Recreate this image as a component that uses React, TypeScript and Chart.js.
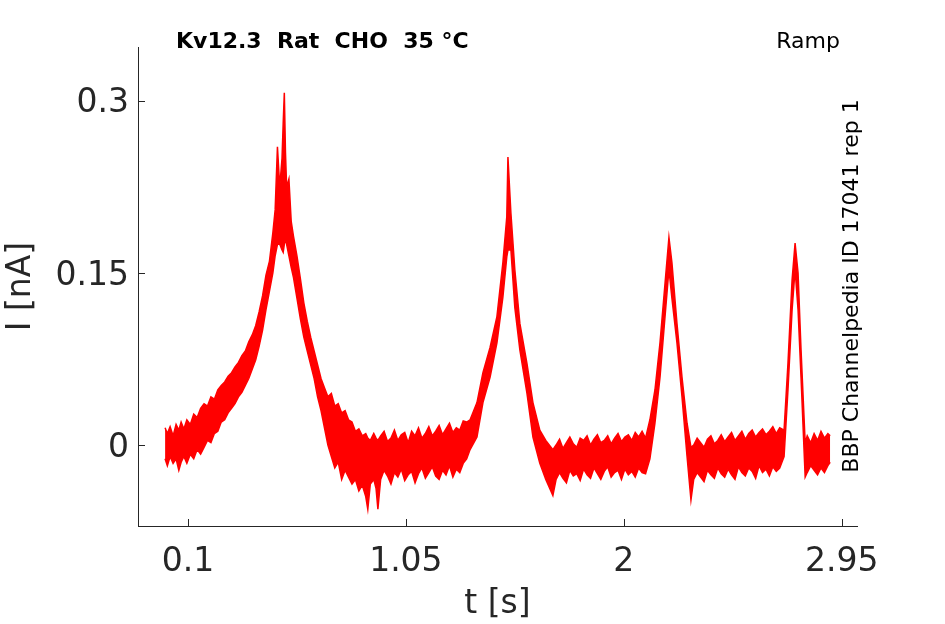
import { useEffect, useRef } from "react"
import { Chart, registerables } from "chart.js"

Chart.register(...registerables)

// time [s] with the upper and lower edge of the noisy current trace [nA]
const T = [
  0.0, 0.01, 0.022, 0.035, 0.048, 0.06, 0.07, 0.082, 0.095, 0.11,
  0.125, 0.14, 0.155, 0.17, 0.185, 0.2, 0.215, 0.23, 0.245, 0.26,
  0.275, 0.29, 0.305, 0.32, 0.335, 0.35, 0.365, 0.38, 0.395, 0.41,
  0.425, 0.44, 0.455, 0.47, 0.48, 0.49, 0.5, 0.51, 0.515, 0.52,
  0.525, 0.53, 0.54, 0.55, 0.56, 0.575, 0.59, 0.605, 0.62, 0.635,
  0.65, 0.665, 0.68, 0.695, 0.71, 0.725, 0.74, 0.755, 0.77, 0.785,
  0.8, 0.815, 0.83, 0.845, 0.86, 0.875, 0.884, 0.895, 0.91, 0.92,
  0.928, 0.94, 0.955, 0.97, 0.985, 1.0, 1.015, 1.03, 1.045, 1.06,
  1.075, 1.09, 1.105, 1.12, 1.135, 1.15, 1.165, 1.18, 1.195, 1.21,
  1.225, 1.24, 1.255, 1.27, 1.285, 1.3, 1.315, 1.33, 1.36, 1.386,
  1.417, 1.447, 1.473, 1.49, 1.495, 1.508, 1.525, 1.547, 1.578, 1.604,
  1.634, 1.66, 1.691, 1.705, 1.72, 1.735, 1.75, 1.765, 1.78, 1.795,
  1.81, 1.825, 1.84, 1.855, 1.87, 1.885, 1.9, 1.915, 1.93, 1.945,
  1.96, 1.975, 1.99, 2.005, 2.02, 2.035, 2.05, 2.065, 2.08, 2.095,
  2.114, 2.136, 2.158, 2.18, 2.197, 2.21, 2.232, 2.254, 2.276, 2.293,
  2.305, 2.32, 2.335, 2.35, 2.365, 2.38, 2.395, 2.41, 2.425, 2.44,
  2.455, 2.47, 2.485, 2.5, 2.515, 2.53, 2.545, 2.56, 2.575, 2.59,
  2.605, 2.62, 2.635, 2.65, 2.665, 2.68, 2.699, 2.716, 2.734, 2.747,
  2.76, 2.773, 2.791, 2.8, 2.815, 2.83, 2.845, 2.86, 2.875, 2.89,
  2.9,
]

const HI = [
  0.015, 0.01, 0.016, 0.008, 0.018, 0.013, 0.02, 0.014, 0.022, 0.018,
  0.027, 0.024, 0.032, 0.036, 0.034, 0.042, 0.04, 0.048, 0.052, 0.055,
  0.06, 0.063, 0.068, 0.072, 0.078, 0.082, 0.09, 0.096, 0.104, 0.116,
  0.13, 0.148, 0.16, 0.185, 0.205, 0.26, 0.225, 0.25, 0.28, 0.307,
  0.255, 0.225, 0.232, 0.195, 0.182, 0.165, 0.145, 0.124, 0.108, 0.094,
  0.082, 0.07, 0.058, 0.05, 0.042, 0.045, 0.034, 0.036, 0.028, 0.03,
  0.022, 0.02, 0.012, 0.014, 0.008, 0.01, 0.006, 0.004, 0.01, 0.006,
  0.004, 0.008, 0.012, 0.003, 0.006, 0.013, 0.004, 0.009, 0.011, 0.002,
  0.012, 0.008, 0.015, 0.006, 0.01, 0.016, 0.008, 0.012, 0.017, 0.009,
  0.014, 0.019, 0.011, 0.015, 0.013, 0.021, 0.02, 0.022, 0.037, 0.063,
  0.085, 0.112, 0.159, 0.199, 0.251, 0.202, 0.153, 0.106, 0.071, 0.037,
  0.013, 0.004, -0.004, 0.0, 0.005, -0.003, 0.002, 0.007, 0.001, -0.002,
  0.006, 0.004, 0.008, 0.0, 0.005, 0.009, 0.002, 0.004, 0.008, 0.001,
  0.006, 0.01, 0.003, 0.007, 0.009, 0.004, 0.011, 0.007, 0.012, 0.006,
  0.022, 0.048, 0.089, 0.141, 0.181, 0.159, 0.106, 0.059, 0.019, -0.002,
  0.0, 0.006, 0.002, -0.002, 0.005, 0.008, 0.001, 0.004, 0.009, 0.003,
  0.007, 0.011, 0.004, 0.008, 0.012, 0.005, 0.01, 0.013, 0.007, 0.011,
  0.014, 0.009, 0.012, 0.016, 0.01, 0.015, 0.013, 0.071, 0.144, 0.176,
  0.15, 0.083, 0.002, 0.008, 0.002, 0.01, 0.004, 0.012, 0.006, 0.01,
  0.008,
]

const LO = [
  -0.012, -0.018, -0.01, -0.016, -0.012, -0.022, -0.015, -0.01, -0.016, -0.008,
  -0.012, -0.004, -0.008, -0.002, 0.004, 0.002, 0.01, 0.012, 0.02, 0.022,
  0.028, 0.032, 0.036, 0.042, 0.046, 0.052, 0.058, 0.066, 0.074, 0.086,
  0.1, 0.118, 0.134, 0.15, 0.165, 0.175, 0.175, 0.17, 0.168, 0.175,
  0.18, 0.175, 0.165, 0.155, 0.146, 0.128, 0.11, 0.094, 0.082, 0.07,
  0.058, 0.042, 0.03, 0.015, 0.0, -0.01, -0.02, -0.015, -0.03, -0.022,
  -0.028, -0.034, -0.03, -0.04, -0.035, -0.045, -0.056, -0.034, -0.03, -0.038,
  -0.056, -0.03, -0.022, -0.027, -0.034, -0.024, -0.028, -0.021, -0.031, -0.026,
  -0.023, -0.033, -0.025, -0.02, -0.029, -0.024, -0.019, -0.027, -0.03, -0.022,
  -0.026, -0.018, -0.028, -0.021, -0.024, -0.016, -0.012, -0.004, 0.007, 0.037,
  0.059, 0.089, 0.129, 0.164, 0.17, 0.17, 0.12, 0.083, 0.045, 0.007,
  -0.016, -0.03, -0.044, -0.03, -0.024, -0.029, -0.033, -0.022, -0.027, -0.025,
  -0.031, -0.021, -0.026, -0.029, -0.02, -0.025, -0.03, -0.023, -0.019, -0.028,
  -0.024, -0.022, -0.03, -0.021, -0.026, -0.023, -0.028, -0.02, -0.024, -0.025,
  -0.012, 0.019, 0.059, 0.112, 0.153, 0.128, 0.089, 0.042, -0.01, -0.048,
  -0.03, -0.024, -0.028, -0.032, -0.022, -0.026, -0.029, -0.02, -0.025, -0.028,
  -0.021, -0.026, -0.03, -0.019, -0.024, -0.027, -0.02, -0.023, -0.029, -0.018,
  -0.024, -0.021, -0.027, -0.019, -0.023, -0.02, -0.01, 0.048, 0.118, 0.153,
  0.118, 0.059, -0.028, -0.024, -0.018, -0.022, -0.026, -0.02, -0.024, -0.018,
  -0.015,
]

const X_TICKS = [0.1, 1.05, 2, 2.95]
const Y_TICKS = [0, 0.15, 0.3]

const TITLE = "Kv12.3  Rat  CHO  35 °C"
const PROTOCOL = "Ramp"
const SOURCE = "BBP Channelpedia ID 17041 rep 1"

const AXIS = "#262626"
const RED = "#ff0000"
const FONT = "'DejaVu Sans', sans-serif"

const decorations = {
  id: "decorations",
  afterDatasetsDraw(chart: Chart) {
    const { ctx, chartArea, scales } = chart
    ctx.save()
    ctx.strokeStyle = AXIS
    ctx.lineWidth = 1
    // inward tick marks
    scales.x.ticks.forEach((t) => {
      const px = Math.round(scales.x.getPixelForValue(t.value)) + 0.5
      ctx.beginPath()
      ctx.moveTo(px, chartArea.bottom)
      ctx.lineTo(px, chartArea.bottom - 7)
      ctx.stroke()
    })
    scales.y.ticks.forEach((t) => {
      const py = Math.round(scales.y.getPixelForValue(t.value)) + 0.5
      ctx.beginPath()
      ctx.moveTo(chartArea.left, py)
      ctx.lineTo(chartArea.left + 7, py)
      ctx.stroke()
    })

    ctx.fillStyle = "#000"
    ctx.textBaseline = "alphabetic"
    ctx.font = `bold 22px ${FONT}`
    ctx.textAlign = "left"
    ctx.fillText(TITLE, 176, 48)
    ctx.font = `22px ${FONT}`
    ctx.textAlign = "right"
    ctx.fillText(PROTOCOL, 840, 48)

    ctx.translate(858, 286)
    ctx.rotate(-Math.PI / 2)
    ctx.textAlign = "center"
    ctx.fillText(SOURCE, 0, 0)
    ctx.restore()
  },
}

export default function App() {
  const chartRef = useRef<HTMLCanvasElement>(null)
  const chartInstance = useRef<Chart | null>(null)

  useEffect(() => {
    if (!chartRef.current) return
    if (chartInstance.current) chartInstance.current.destroy()

    const upper = T.map((t, i) => ({ x: t, y: HI[i] }))
    const lower = T.map((t, i) => ({ x: t, y: LO[i] }))

    chartInstance.current = new Chart(chartRef.current, {
      type: "line",
      data: {
        datasets: [
          {
            data: upper,
            borderColor: RED,
            borderWidth: 1.5,
            pointRadius: 0,
            tension: 0,
            fill: false,
          },
          {
            data: lower,
            borderColor: RED,
            borderWidth: 1.5,
            backgroundColor: RED,
            pointRadius: 0,
            tension: 0,
            fill: "-1",
          },
        ],
      },
      options: {
        animation: false,
        responsive: false,
        devicePixelRatio: 1,
        layout: { padding: { left: 0, top: 47, right: 88, bottom: 0 } },
        plugins: { legend: { display: false }, tooltip: { enabled: false } },
        scales: {
          x: {
            type: "linear",
            min: -0.118,
            max: 3.017,
            afterBuildTicks: (s) => {
              s.ticks = X_TICKS.map((v) => ({ value: v }))
            },
            afterFit: (s) => {
              s.height = 98
            },
            grid: { display: false, drawTicks: false },
            border: { display: true, color: AXIS, width: 1 },
            ticks: {
              autoSkip: false,
              maxRotation: 0,
              padding: 17,
              color: AXIS,
              font: { family: FONT, size: 33 },
              callback: (v) => String(v),
            },
            title: {
              display: true,
              text: "t [s]",
              color: AXIS,
              font: { family: FONT, size: 33 },
              padding: { top: 0, bottom: 0 },
            },
          },
          y: {
            type: "linear",
            min: -0.0706,
            max: 0.347,
            afterBuildTicks: (s) => {
              s.ticks = Y_TICKS.map((v) => ({ value: v }))
            },
            afterFit: (s) => {
              s.width = 138
            },
            grid: { display: false, drawTicks: false },
            border: { display: true, color: AXIS, width: 1 },
            ticks: {
              padding: 9,
              labelOffset: 3,
              color: AXIS,
              font: { family: FONT, size: 33 },
              callback: (v) => String(v),
            },
            title: {
              display: true,
              text: "I [nA]",
              color: AXIS,
              font: { family: FONT, size: 33 },
              padding: { top: 2, bottom: 0 },
            },
          },
        },
      },
      plugins: [decorations],
    })

    return () => {
      if (chartInstance.current) {
        chartInstance.current.destroy()
        chartInstance.current = null
      }
    }
  }, [])

  return (
    <div style={{ position: "absolute", left: 0, top: 0, width: 945, height: 624, background: "#fff" }}>
      <canvas ref={chartRef} width={945} height={624} />
    </div>
  )
}
